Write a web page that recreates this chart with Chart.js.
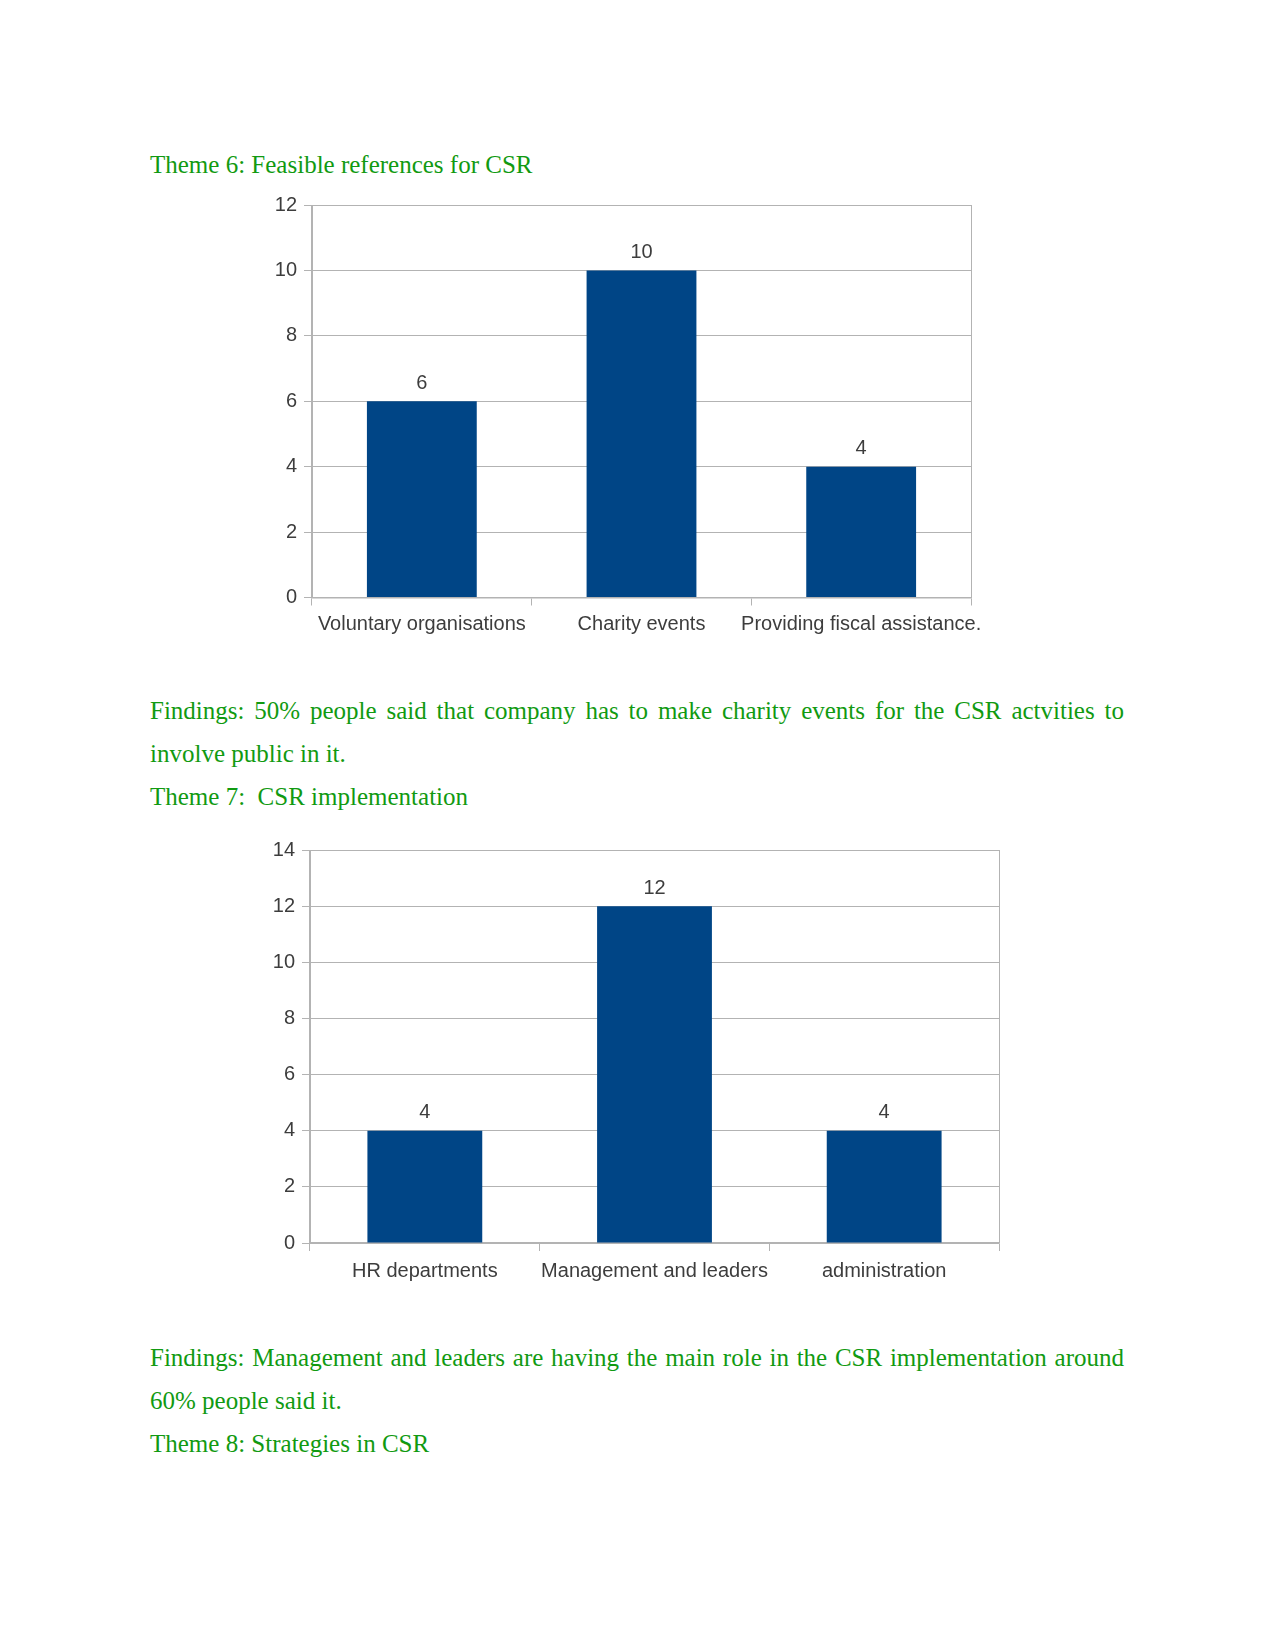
<!DOCTYPE html>
<html>
<head>
<meta charset="utf-8">
<script src="https://cdn.jsdelivr.net/npm/chart.js@4"></script>
<style>
  html, body { margin: 0; padding: 0; background: #ffffff; }
  body { width: 1275px; height: 1650px; position: relative; overflow: hidden; }
  .txt { position: absolute; left: 150px; width: 974px; font-family: "Liberation Serif", "Times New Roman", serif; font-size: 25px; line-height: 43px; color: #119a11; white-space: nowrap; }
  .just { text-align: justify; text-align-last: justify; white-space: normal; }
  canvas { position: absolute; }
</style>
</head>
<body>
<div class="txt" style="top:143px;">Theme 6: Feasible references for CSR</div>
<canvas id="c1" width="740" height="460" style="left:250px;top:185px;width:740px;height:460px;"></canvas>
<div class="txt just" style="top:689px;">Findings: 50% people said that company has to make charity events for the CSR actvities to</div>
<div class="txt" style="top:732px;">involve public in it.</div>
<div class="txt" style="top:775px;">Theme 7:&nbsp; CSR implementation</div>
<canvas id="c2" width="770" height="470" style="left:250px;top:830px;width:770px;height:470px;"></canvas>
<div class="txt just" style="top:1336px;">Findings: Management and leaders are having the main role in the CSR implementation around</div>
<div class="txt" style="top:1379px;">60% people said it.</div>
<div class="txt" style="top:1422px;">Theme 8: Strategies in CSR</div>

<script>
// ---- data ----
const categories1 = ["Voluntary organisations", "Charity events", "Providing fiscal assistance."];
const values1 = [6, 10, 4];
const yMax1 = 12;

const categories2 = ["HR departments", "Management and leaders", "administration"];
const values2 = [4, 12, 4];
const yMax2 = 14;

const yStep = 2;

// ---- styling ----
const BAR = "#004586";
const GRID = "#b3b3b3";
const TEXT = "#3d3d3d";
const FONT = "'Liberation Sans', Arial, sans-serif";

const valueLabels = {
  id: "valueLabels",
  afterDatasetsDraw(chart) {
    const ctx = chart.ctx;
    ctx.save();
    ctx.font = "20px " + FONT;
    ctx.fillStyle = TEXT;
    ctx.textAlign = "center";
    ctx.textBaseline = "middle";
    chart.data.datasets.forEach((ds, di) => {
      const meta = chart.getDatasetMeta(di);
      meta.data.forEach((bar, i) => {
        ctx.fillText(String(ds.data[i]), bar.x, bar.y - 18);
      });
    });
    ctx.restore();
  }
};

function makeChart(id, labels, values, yMax, yWidth, pad, xPad) {
  return new Chart(document.getElementById(id), {
    type: "bar",
    data: {
      labels: labels,
      datasets: [{
        data: values,
        backgroundColor: BAR,
        borderWidth: 0,
        categoryPercentage: 0.5,
        barPercentage: 1.0
      }]
    },
    options: {
      responsive: false,
      animation: false,
      devicePixelRatio: 1,
      layout: { padding: pad },
      plugins: { legend: { display: false }, tooltip: { enabled: false } },
      scales: {
        x: {
          grid: {
            offset: true,
            drawOnChartArea: true,
            color: (c) => (c.index === 0 || c.index === undefined || c.index >= labels.length) ? GRID : "rgba(0,0,0,0)",
            tickColor: GRID,
            tickLength: 8,
            lineWidth: 1
          },
          border: { display: true, color: GRID, width: 1.5 },
          ticks: {
            color: TEXT,
            font: { family: FONT, size: 20 },
            padding: xPad,
            maxRotation: 0,
            autoSkip: false
          },
          afterFit: (s) => { s.height = 40; s.paddingLeft = 0; s.paddingRight = 0; }
        },
        y: {
          min: 0,
          max: yMax,
          grid: { color: GRID, tickColor: GRID, tickLength: 8, lineWidth: 1 },
          border: { display: true, color: GRID, width: 1 },
          ticks: {
            stepSize: yStep,
            color: TEXT,
            font: { family: FONT, size: 20 },
            padding: 7
          },
          afterFit: (s) => { s.width = yWidth; }
        }
      }
    },
    plugins: [valueLabels]
  });
}

makeChart("c1", categories1, values1, yMax1, 62, { left: 0, right: 19, top: 20, bottom: 7.5 }, 7);
makeChart("c2", categories2, values2, yMax2, 60, { left: 0, right: 21, top: 20, bottom: 17 }, 8);
</script>
</body>
</html>
